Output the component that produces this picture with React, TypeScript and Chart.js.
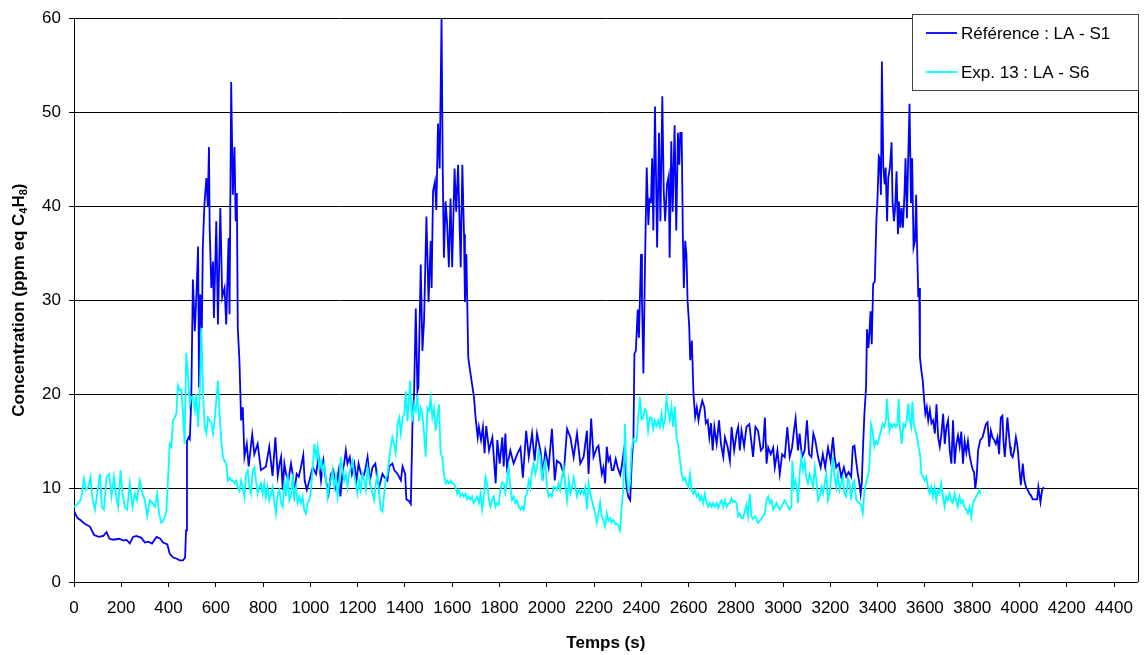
import React, { useEffect, useRef } from "react";
import { Chart, registerables } from "chart.js";

Chart.register(...registerables);

// Time (s) and concentration (ppm eq C4H8) pairs
const refLabel = "Référence : LA - S1";
const expLabel = "Exp. 13 : LA - S6";
const xTitle = "Temps (s)";
const yTitleParts: [string, boolean][] = [["Concentration (ppm eq C", false], ["4", true], ["H", false], ["8", true], [")", false]];
const xMax = 4500;
const xStep = 200;
const yMax = 60;
const yStep = 10;

const refSeries: [number, number][] = [
[0,7.6],[5,7.3],[15,6.8],[27,6.6],[45,6.2],[67,5.9],[85,5.0],[105,4.8],[124,4.9],[138,5.3],[150,4.6],[166,4.5],[190,4.6],[210,4.4],[222,4.5],[236,4.1],[250,4.8],[264,4.9],[285,4.7],[300,4.2],[315,4.3],[330,4.1],[349,4.8],[365,4.6],[377,4.2],[395,4.0],[405,3.0],[420,2.6],[433,2.5],[447,2.3],[461,2.3],[470,2.6],[474,5.5],[478,15.0],[485,15.4],[490,15.2],[496,19.3],[503,32.2],[511,26.7],[518,30.6],[525,35.7],[529,20.7],[534,30.6],[541,27.0],[545,35.7],[552,40.3],[560,43.0],[566,40.0],[571,46.3],[574,37.7],[581,31.3],[588,34.1],[592,28.1],[602,38.4],[609,27.4],[619,39.8],[627,30.3],[637,31.3],[644,27.4],[654,36.6],[658,28.5],[665,53.2],[672,41.2],[679,46.3],[684,38.4],[689,41.4],[693,27.0],[700,23.5],[707,17.2],[714,18.6],[721,13.3],[731,14.7],[739,12.3],[754,15.7],[763,13.6],[777,14.7],[791,11.9],[812,12.3],[826,14.4],[840,11.3],[852,15.4],[862,11.3],[869,12.5],[876,13.3],[883,9.8],[890,12.6],[897,11.5],[907,10.8],[918,12.6],[925,11.5],[932,9.4],[942,11.5],[951,11.2],[960,12.2],[970,13.5],[976,10.8],[985,9.8],[996,10.8],[1010,12.2],[1024,11.5],[1035,13.3],[1045,10.8],[1055,12.9],[1066,10.8],[1077,9.4],[1087,11.5],[1097,11.9],[1108,10.1],[1120,11.9],[1127,9.1],[1137,11.9],[1143,12.6],[1150,14.0],[1157,12.6],[1167,13.3],[1176,11.5],[1186,12.6],[1195,10.8],[1204,12.6],[1214,11.5],[1224,11.2],[1232,11.9],[1242,13.3],[1252,10.8],[1263,12.2],[1275,12.6],[1284,10.8],[1291,10.1],[1305,11.5],[1312,11.2],[1326,10.8],[1333,12.3],[1347,12.6],[1355,11.9],[1369,11.5],[1383,10.8],[1390,12.3],[1401,11.5],[1406,8.8],[1418,8.6],[1425,8.3],[1432,16.8],[1439,20.3],[1446,29.1],[1453,20.3],[1457,20.7],[1467,33.8],[1474,24.6],[1481,27.8],[1491,38.9],[1500,29.8],[1509,36.3],[1513,31.3],[1519,41.6],[1527,42.6],[1533,39.6],[1540,48.8],[1547,44.0],[1555,60.0],[1560,44.0],[1565,34.5],[1572,40.5],[1579,38.0],[1586,33.5],[1593,40.8],[1600,33.5],[1610,44.0],[1617,39.4],[1625,44.4],[1636,33.5],[1643,44.4],[1650,37.0],[1654,29.8],[1660,34.9],[1668,23.9],[1674,22.8],[1682,21.4],[1692,19.7],[1699,17.5],[1708,15.4],[1713,16.5],[1722,15.1],[1730,16.5],[1737,13.7],[1744,16.6],[1756,14.0],[1770,15.4],[1777,13.0],[1784,10.5],[1791,15.1],[1801,12.6],[1812,15.4],[1818,12.3],[1825,15.8],[1832,12.2],[1846,14.0],[1860,12.6],[1875,13.6],[1889,14.3],[1899,11.1],[1913,16.1],[1924,13.3],[1938,15.8],[1949,12.9],[1959,15.8],[1973,14.0],[1984,11.5],[1994,14.0],[2008,12.2],[2022,16.3],[2034,10.8],[2043,12.9],[2058,12.6],[2072,11.5],[2086,16.3],[2100,15.4],[2114,13.3],[2128,15.8],[2142,12.6],[2156,13.3],[2170,16.1],[2177,11.5],[2188,17.4],[2198,13.3],[2212,14.3],[2219,14.5],[2226,12.9],[2233,11.5],[2240,12.2],[2247,10.5],[2254,14.4],[2261,12.9],[2268,13.3],[2275,11.9],[2282,11.9],[2292,13.1],[2301,12.1],[2311,11.4],[2318,12.4],[2325,13.8],[2332,12.2],[2339,9.8],[2346,9.0],[2353,8.7],[2360,12.9],[2367,15.4],[2371,24.3],[2377,24.6],[2385,29.0],[2390,26.0],[2399,34.9],[2403,30.0],[2409,22.2],[2416,34.2],[2423,44.1],[2430,38.0],[2435,40.7],[2441,40.5],[2446,45.1],[2451,37.4],[2458,50.6],[2467,35.6],[2475,47.8],[2481,38.4],[2489,51.7],[2495,41.6],[2501,38.4],[2509,42.3],[2516,43.2],[2520,34.5],[2527,46.9],[2533,39.4],[2541,48.6],[2548,37.4],[2555,47.8],[2561,44.4],[2565,47.8],[2571,47.8],[2576,36.7],[2580,31.3],[2586,36.3],[2591,34.9],[2596,29.9],[2603,27.1],[2607,23.6],[2614,25.7],[2621,20.0],[2628,17.6],[2635,18.6],[2642,17.2],[2649,18.3],[2658,19.3],[2667,18.6],[2673,16.9],[2681,17.2],[2688,15.4],[2695,16.9],[2702,14.0],[2709,16.5],[2719,14.7],[2729,17.2],[2737,14.7],[2747,13.3],[2754,15.4],[2765,14.4],[2775,12.9],[2782,16.5],[2793,14.0],[2803,15.8],[2810,16.5],[2817,14.0],[2824,16.1],[2835,14.4],[2845,16.5],[2857,16.8],[2865,15.1],[2873,13.3],[2883,16.5],[2894,16.1],[2906,14.0],[2915,14.3],[2923,17.5],[2930,12.6],[2937,14.3],[2948,13.6],[2958,14.3],[2965,12.2],[2976,14.0],[2986,11.5],[2996,13.6],[3007,13.3],[3018,16.5],[3028,13.3],[3038,14.3],[3046,16.1],[3053,17.4],[3063,14.0],[3070,15.8],[3080,13.3],[3091,14.0],[3101,17.2],[3110,13.6],[3120,13.3],[3128,15.8],[3136,15.1],[3148,13.3],[3159,12.2],[3168,13.6],[3178,12.2],[3190,14.3],[3201,12.9],[3211,15.4],[3218,13.3],[3225,12.2],[3236,12.6],[3246,11.2],[3257,12.2],[3267,11.2],[3277,11.7],[3288,11.2],[3295,14.4],[3302,14.5],[3309,12.9],[3316,11.5],[3323,10.5],[3328,9.4],[3333,10.6],[3337,13.6],[3344,17.9],[3351,20.7],[3355,26.9],[3361,24.9],[3365,26.4],[3370,28.8],[3375,25.3],[3381,31.7],[3388,32.0],[3395,38.7],[3399,40.5],[3405,45.3],[3409,45.1],[3414,41.2],[3418,55.4],[3424,44.1],[3430,42.3],[3434,44.1],[3440,38.4],[3445,43.0],[3452,44.1],[3459,46.8],[3463,40.5],[3469,38.4],[3474,39.8],[3480,43.7],[3486,37.0],[3490,40.5],[3496,37.7],[3501,39.8],[3507,37.7],[3514,41.6],[3518,45.1],[3524,38.7],[3529,44.8],[3535,50.9],[3541,40.3],[3546,45.1],[3552,35.6],[3558,36.3],[3563,41.2],[3567,35.6],[3572,30.3],[3576,31.3],[3579,23.9],[3585,22.5],[3591,21.4],[3597,19.3],[3602,17.9],[3608,18.6],[3614,17.2],[3621,18.3],[3628,16.9],[3635,17.2],[3642,15.8],[3649,18.9],[3656,15.4],[3663,14.4],[3670,15.8],[3677,17.9],[3684,14.7],[3691,16.5],[3698,17.2],[3705,14.0],[3712,12.6],[3719,17.2],[3726,12.6],[3733,14.7],[3740,15.6],[3747,14.4],[3754,16.0],[3761,12.6],[3768,15.0],[3775,13.8],[3782,15.0],[3789,13.5],[3796,12.6],[3803,11.9],[3808,11.7],[3813,9.9],[3819,11.2],[3825,14.0],[3834,15.1],[3844,15.4],[3851,16.1],[3858,16.8],[3865,17.0],[3872,14.4],[3879,16.1],[3886,15.4],[3893,15.1],[3900,14.7],[3907,15.4],[3914,13.6],[3921,17.5],[3928,17.7],[3932,15.1],[3938,13.3],[3944,15.4],[3949,17.5],[3954,16.1],[3960,14.4],[3964,13.6],[3971,13.3],[3978,14.0],[3985,15.4],[3992,14.4],[3999,12.2],[4006,10.3],[4014,12.6],[4021,10.8],[4028,10.1],[4035,9.8],[4042,9.4],[4049,9.2],[4056,8.8],[4066,8.8],[4075,8.8],[4080,10.1],[4089,8.5],[4096,9.8],[4103,10.1]
];

const expSeries: [number, number][] = [
[0,8.0],[10,8.2],[18,8.4],[25,8.6],[32,9.1],[42,11.0],[51,9.8],[60,10.1],[70,11.2],[79,8.7],[89,7.7],[98,9.4],[110,11.5],[118,8.0],[127,7.7],[138,11.2],[149,11.5],[159,9.1],[169,11.2],[177,9.4],[187,8.0],[197,11.9],[205,9.4],[215,8.0],[225,7.7],[236,10.5],[248,8.0],[257,9.4],[267,8.7],[278,10.8],[290,9.4],[300,8.7],[310,7.0],[321,8.7],[332,8.4],[342,8.0],[352,9.4],[360,7.3],[369,6.3],[377,6.5],[385,7.0],[391,7.6],[398,11.1],[405,14.7],[412,14.4],[419,17.2],[426,17.5],[433,17.9],[440,20.9],[447,20.4],[454,20.5],[461,17.9],[468,14.7],[475,24.4],[482,22.1],[490,18.9],[496,19.7],[503,19.7],[511,18.3],[518,20.0],[525,16.5],[532,20.0],[539,27.0],[546,20.0],[553,16.5],[560,15.8],[567,17.5],[574,17.2],[581,16.9],[588,15.8],[595,17.2],[602,19.3],[609,21.4],[616,17.9],[623,15.1],[630,13.3],[637,12.9],[644,12.6],[651,10.8],[658,11.1],[665,10.8],[672,10.8],[679,10.5],[686,10.8],[693,10.1],[700,9.7],[707,10.8],[714,10.1],[721,9.0],[728,11.5],[735,11.9],[742,10.1],[749,9.4],[756,11.9],[763,12.2],[770,10.8],[777,9.4],[784,10.1],[791,10.5],[798,9.4],[805,10.5],[812,9.0],[819,10.1],[826,8.7],[833,9.4],[840,10.1],[847,8.7],[854,7.3],[862,9.4],[869,9.8],[876,8.4],[883,8.0],[890,10.8],[897,9.1],[904,11.5],[911,8.7],[918,9.1],[925,11.5],[932,9.1],[939,10.1],[946,8.4],[953,9.1],[960,8.4],[967,9.1],[974,7.7],[981,7.3],[988,8.4],[996,8.7],[1003,9.8],[1010,12.2],[1017,14.7],[1024,13.3],[1031,14.4],[1038,12.2],[1045,12.9],[1052,11.9],[1059,12.6],[1066,10.8],[1073,9.1],[1080,10.5],[1087,10.8],[1094,11.9],[1101,10.1],[1108,11.2],[1115,9.1],[1122,10.5],[1129,13.3],[1136,11.9],[1143,10.8],[1150,11.5],[1157,10.1],[1164,11.5],[1171,12.2],[1178,12.9],[1185,11.5],[1192,10.5],[1199,9.4],[1206,10.8],[1213,9.8],[1220,11.5],[1228,10.8],[1235,9.8],[1242,12.2],[1249,11.2],[1256,10.1],[1263,9.4],[1270,8.7],[1277,10.5],[1284,11.5],[1291,9.4],[1298,7.7],[1305,7.5],[1312,9.3],[1319,11.0],[1326,11.4],[1333,13.0],[1340,14.4],[1347,15.4],[1354,14.7],[1361,13.7],[1369,16.8],[1376,17.5],[1383,15.8],[1390,17.5],[1397,17.8],[1404,20.3],[1411,17.1],[1418,19.9],[1422,21.4],[1427,18.5],[1432,17.1],[1439,18.9],[1446,18.2],[1453,19.9],[1460,17.1],[1467,18.5],[1474,17.8],[1481,15.8],[1488,13.3],[1495,18.5],[1502,18.2],[1509,19.6],[1516,17.5],[1523,18.5],[1530,16.1],[1537,17.5],[1544,18.9],[1551,13.7],[1558,13.3],[1565,11.5],[1572,10.5],[1579,10.8],[1586,10.5],[1593,10.8],[1600,10.5],[1607,10.5],[1614,10.1],[1621,9.4],[1628,9.8],[1635,9.1],[1642,9.4],[1649,9.1],[1656,9.4],[1663,8.8],[1670,9.1],[1677,8.8],[1684,9.1],[1691,8.4],[1699,8.8],[1706,9.1],[1713,8.4],[1720,9.4],[1727,7.7],[1734,9.1],[1741,11.2],[1748,10.5],[1755,8.8],[1762,8.0],[1769,8.8],[1776,9.1],[1783,8.0],[1790,8.4],[1797,8.2],[1804,9.8],[1811,10.6],[1818,10.5],[1825,9.5],[1832,10.8],[1839,12.2],[1846,10.1],[1853,8.7],[1860,9.1],[1867,8.4],[1874,8.7],[1882,8.0],[1889,7.7],[1896,8.0],[1903,7.7],[1910,9.1],[1917,9.4],[1924,10.8],[1931,10.1],[1938,11.9],[1945,12.6],[1952,11.5],[1959,12.2],[1966,14.0],[1973,13.3],[1980,10.8],[1987,12.2],[1994,12.9],[2001,10.1],[2008,9.1],[2015,9.4],[2022,9.1],[2029,10.1],[2036,10.1],[2043,9.8],[2050,10.5],[2057,9.8],[2064,11.1],[2072,12.2],[2079,10.1],[2086,8.7],[2093,10.8],[2100,9.4],[2107,10.1],[2114,11.1],[2121,10.1],[2128,9.1],[2135,9.8],[2142,9.4],[2149,9.8],[2156,9.4],[2163,10.1],[2170,7.7],[2177,10.5],[2184,9.4],[2191,8.7],[2198,8.0],[2205,7.3],[2212,6.3],[2219,7.3],[2226,8.5],[2233,7.0],[2240,6.5],[2247,5.9],[2254,7.3],[2261,6.5],[2268,6.8],[2275,6.3],[2282,6.6],[2289,6.2],[2296,6.2],[2303,6.0],[2310,5.5],[2317,8.0],[2324,9.8],[2331,16.8],[2338,11.5],[2345,9.8],[2352,10.3],[2359,14.0],[2366,15.2],[2373,14.9],[2380,15.0],[2387,17.5],[2394,19.7],[2401,17.3],[2408,17.4],[2415,18.4],[2422,18.2],[2429,16.1],[2436,17.5],[2443,17.5],[2450,16.3],[2457,17.2],[2464,16.6],[2472,17.2],[2479,16.5],[2486,17.9],[2493,16.5],[2500,17.2],[2507,19.5],[2514,18.2],[2521,17.2],[2528,18.6],[2535,16.5],[2542,18.7],[2549,15.4],[2557,14.4],[2564,12.9],[2571,11.5],[2578,10.8],[2585,11.1],[2592,10.5],[2599,10.1],[2606,11.5],[2613,9.8],[2620,9.4],[2627,9.8],[2634,9.1],[2641,9.4],[2648,8.7],[2655,9.1],[2662,8.4],[2669,9.4],[2676,8.4],[2683,8.0],[2690,8.4],[2697,8.0],[2704,8.4],[2711,8.0],[2719,8.4],[2726,7.9],[2733,8.4],[2740,8.7],[2747,8.0],[2754,8.7],[2761,8.0],[2768,8.3],[2775,8.4],[2782,8.9],[2789,8.5],[2796,8.6],[2803,8.4],[2810,7.0],[2817,7.3],[2824,6.8],[2831,6.8],[2838,7.5],[2845,8.2],[2852,7.0],[2859,9.4],[2866,7.0],[2873,6.7],[2880,7.0],[2887,6.7],[2894,6.3],[2901,6.5],[2908,6.7],[2915,7.0],[2923,7.3],[2930,8.7],[2937,9.1],[2944,8.4],[2951,8.7],[2958,7.7],[2965,8.0],[2972,8.4],[2979,8.0],[2986,7.7],[2993,8.0],[3000,8.4],[3007,8.7],[3014,8.4],[3021,8.0],[3028,7.7],[3035,8.0],[3039,12.9],[3045,10.1],[3052,10.8],[3059,9.8],[3063,8.4],[3070,11.5],[3077,13.3],[3084,11.9],[3091,12.9],[3098,11.1],[3105,10.5],[3112,11.5],[3120,10.8],[3127,10.1],[3134,12.2],[3141,10.8],[3148,8.7],[3155,9.1],[3162,10.1],[3169,9.4],[3176,10.5],[3183,11.5],[3190,8.7],[3197,9.4],[3204,11.5],[3211,13.3],[3218,11.1],[3225,10.1],[3232,11.5],[3239,9.8],[3246,10.5],[3253,11.1],[3260,9.4],[3267,9.1],[3274,11.0],[3281,10.5],[3288,8.7],[3295,10.5],[3302,10.8],[3309,8.8],[3316,8.5],[3323,8.4],[3330,8.2],[3337,7.3],[3344,9.6],[3351,10.6],[3358,11.2],[3365,12.2],[3372,16.8],[3379,16.1],[3386,14.4],[3393,15.0],[3400,14.7],[3407,15.4],[3414,16.1],[3421,16.8],[3428,16.5],[3435,17.2],[3439,19.5],[3445,17.5],[3450,16.1],[3456,16.8],[3463,16.5],[3470,16.8],[3477,16.5],[3484,16.8],[3489,19.5],[3494,16.5],[3502,14.7],[3509,16.8],[3516,16.5],[3523,17.2],[3530,19.0],[3536,17.2],[3542,16.5],[3547,19.2],[3553,16.8],[3560,16.1],[3567,15.4],[3573,14.4],[3579,13.7],[3585,11.5],[3592,11.2],[3599,10.8],[3606,11.2],[3613,10.1],[3620,9.4],[3627,10.1],[3634,9.1],[3641,10.1],[3648,8.7],[3655,9.8],[3662,9.4],[3669,10.5],[3676,9.1],[3683,8.0],[3690,9.1],[3697,8.7],[3704,9.4],[3711,8.7],[3718,8.4],[3725,9.4],[3732,8.7],[3739,8.0],[3746,9.1],[3753,8.4],[3760,8.7],[3767,8.0],[3774,7.7],[3782,7.3],[3789,8.0],[3796,6.9],[3803,8.4],[3810,8.7],[3817,9.1],[3824,9.4],[3831,9.8],[3835,9.3]
];

const REF_COLOR = "#0000ff";
const EXP_COLOR = "#00ffff";
const FONT = "Arial, 'Liberation Sans', Helvetica, sans-serif";
const FS = 17;

const yTitlePlugin = {
  id: "yTitle",
  afterDraw(chart: any) {
    const ctx = chart.ctx;
    const area = chart.chartArea;
    ctx.save();
    const mainFont = `bold ${FS}px ${FONT}`;
    const subFont = `bold ${Math.round(FS * 0.65)}px ${FONT}`;
    let total = 0;
    for (const [t, sub] of yTitleParts) {
      ctx.font = sub ? subFont : mainFont;
      total += ctx.measureText(t).width;
    }
    ctx.translate(18, (area.top + area.bottom) / 2);
    ctx.rotate(-Math.PI / 2);
    ctx.fillStyle = "#000";
    ctx.textBaseline = "alphabetic";
    ctx.textAlign = "left";
    let x = -total / 2;
    for (const [t, sub] of yTitleParts) {
      ctx.font = sub ? subFont : mainFont;
      ctx.fillText(t, x, sub ? 9 : 6);
      x += ctx.measureText(t).width;
    }
    ctx.restore();
  },
};

const framePlugin = {
  id: "frameLegend",
  afterDraw(chart: any) {
    const ctx = chart.ctx;
    const a = chart.chartArea;
    ctx.save();
    ctx.strokeStyle = "#000";
    ctx.lineWidth = 1;
    ctx.beginPath();
    ctx.moveTo(Math.round(a.right) + 0.5, a.top);
    ctx.lineTo(Math.round(a.right) + 0.5, a.bottom);
    ctx.stroke();
    // legend box
    const lx = 912, ly = 14, lw = 226, lh = 76;
    ctx.fillStyle = "#fff";
    ctx.fillRect(lx, ly, lw, lh);
    ctx.strokeStyle = "#444";
    ctx.strokeRect(lx + 0.5, ly + 0.5, lw, lh);
    const rows: [string, string, number][] = [
      [refLabel, REF_COLOR, 33],
      [expLabel, EXP_COLOR, 72],
    ];
    ctx.font = `${FS}px ${FONT}`;
    ctx.textBaseline = "middle";
    ctx.textAlign = "left";
    for (const [label, color, y] of rows) {
      ctx.strokeStyle = color;
      ctx.lineWidth = 1.8;
      ctx.beginPath();
      ctx.moveTo(926, y);
      ctx.lineTo(957, y);
      ctx.stroke();
      ctx.fillStyle = "#000";
      ctx.fillText(label, 961, y + 1);
    }
    ctx.restore();
  },
};

export default function App() {
  const ref = useRef<HTMLCanvasElement | null>(null);
  useEffect(() => {
    document.body.style.margin = "0";
    if (!ref.current) return;
    const chart = new Chart(ref.current, {
      type: "line",
      data: {
        datasets: [
          {
            label: refLabel,
            data: refSeries.map(([x, y]) => ({ x, y })),
            borderColor: REF_COLOR,
            borderWidth: 1.8,
            pointRadius: 0,
            tension: 0,
            fill: false,
            order: 1,
          },
          {
            label: expLabel,
            data: expSeries.map(([x, y]) => ({ x, y })),
            borderColor: EXP_COLOR,
            borderWidth: 1.8,
            pointRadius: 0,
            tension: 0,
            fill: false,
            order: 0,
          },
        ],
      },
      options: {
        animation: false,
        responsive: false,
        maintainAspectRatio: false,
        layout: { padding: { left: 0, right: 4, top: 16, bottom: 1 } },
        plugins: { legend: { display: false }, tooltip: { enabled: false } },
        scales: {
          x: {
            type: "linear",
            min: 0,
            max: xMax,
            afterFit: (s: any) => { s.height = 72; },
            ticks: {
              stepSize: xStep,
              includeBounds: false,
              color: "#000",
              font: { family: FONT, size: FS },
              padding: 11,
              maxRotation: 0,
              autoSkip: false,
              callback: (v: any) => String(v),
            },
            grid: { drawOnChartArea: false, drawTicks: true, tickLength: 5, color: "#000" },
            border: { display: true, color: "#000", width: 1 },
            title: {
              display: true,
              text: xTitle,
              color: "#000",
              font: { family: FONT, size: FS, weight: "bold" },
              padding: { top: 0, bottom: 0 },
            },
          },
          y: {
            type: "linear",
            min: 0,
            max: yMax,
            afterFit: (s: any) => { s.width = 74; },
            ticks: {
              stepSize: yStep,
              color: "#000",
              font: { family: FONT, size: FS },
              padding: 8,
            },
            grid: { color: "#000", lineWidth: 1, drawTicks: true, tickLength: 5 },
            border: { display: true, color: "#000", width: 1 },
          },
        },
      },
      plugins: [yTitlePlugin, framePlugin],
    } as any);
    return () => chart.destroy();
  }, []);
  return (
    <div style={{ position: "absolute", left: 0, top: 0, width: 1144, height: 655, background: "#fff" }}>
      <canvas ref={ref} width={1144} height={655} style={{ width: 1144, height: 655 }} />
    </div>
  );
}
